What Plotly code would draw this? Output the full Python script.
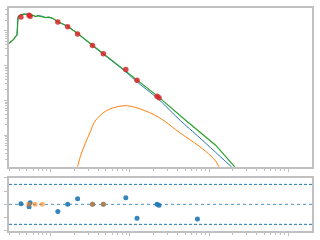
import plotly.graph_objects as go
from plotly.subplots import make_subplots

# ---- data (wavelength, flux) ----
total_x = [0.0299, 0.0335, 0.0365, 0.0376, 0.039, 0.0422, 0.046, 0.0516, 0.0562, 0.0613, 0.0649,
           0.0688, 0.0794, 0.0866, 0.0944, 0.106, 0.1223, 0.163, 0.2175, 0.335, 0.46, 0.891,
           1.223, 2.239, 5.11, 12.13, 21.13, 27.4]
total_y = [0.437, 0.538, 0.699, 0.746, 2.49, 2.84, 2.97, 2.97, 2.87, 2.71, 2.54,
           2.69, 2.57, 2.38, 2.44, 2.26, 1.83, 1.34, 0.839, 0.389, 0.2234, 0.0714,
           0.0384, 0.01328, 0.002656, 0.00052, 0.000124, 6.9e-5]

star_x = [0.0299, 0.0335, 0.0365, 0.0376, 0.039, 0.0422, 0.046, 0.0516, 0.0562, 0.0613, 0.0649,
          0.0688, 0.0794, 0.0866, 0.0944, 0.106, 0.1223, 0.163, 0.2175, 0.335, 0.46, 0.891,
          1.223, 2.239, 4.34, 7.5, 19.2, 25.1]
star_y = [0.437, 0.538, 0.699, 0.746, 2.49, 2.84, 2.97, 2.97, 2.87, 2.71, 2.54,
          2.69, 2.57, 2.38, 2.44, 2.26, 1.83, 1.34, 0.839, 0.376, 0.2134, 0.066,
          0.0344, 0.0115, 0.002656, 0.000879, 0.000124, 6.9e-5]

disk_x = [0.2113, 0.2193, 0.2371, 0.2738, 0.3162, 0.365, 0.487, 0.649, 0.866, 1.155, 1.54,
          2.054, 2.738, 4.217, 7.5, 10.59, 12.24, 13.34, 14.13]
disk_y = [8.95e-5, 0.000124, 0.000243, 0.000582, 0.00124, 0.00257, 0.00478, 0.00632, 0.00706,
          0.0064, 0.0051, 0.00385, 0.00257, 0.001215, 0.000488, 0.000254, 0.0001754, 0.000124, 7.37e-5]

obs_x = [0.0422, 0.0535, 0.0551, 0.1234, 0.1644, 0.2193, 0.338, 0.4634, 0.891, 1.233, 2.208, 2.337]
obs_y = [2.49, 2.78, 2.61, 1.763, 1.298, 0.8065, 0.376, 0.219, 0.0772, 0.0377, 0.01312, 0.0119]

res_x = [0.0422, 0.0551, 0.0535, 0.1234, 0.1644, 0.2193, 0.338, 0.4634, 0.891, 1.233, 2.208, 2.337, 7.14]
res_y = [0.1, 0.25, -0.34, -1.08, 0.0, 0.85, 0.0, 0.0, 1.0, -2.1, 0.0, -0.15, -2.2]

lim_x = [0.0531, 0.0637, 0.0787, 0.338, 0.4634]
lim_y = [0.0, 0.0, 0.0, 0.0, 0.0]

BLUE = "#1f77b4"
ORANGE = "#ff7f0e"
GREEN = "#2ca02c"
RED = "#d62728"
GREY = "#c0c0c0"

fig = make_subplots(rows=2, cols=1, shared_xaxes=False,
                    row_heights=[0.75, 0.25], vertical_spacing=0.05)

fig.add_trace(go.Scatter(x=star_x, y=star_y, mode="lines",
                         line=dict(color=BLUE, width=1, shape="spline", smoothing=0.6)), row=1, col=1)
fig.add_trace(go.Scatter(x=disk_x, y=disk_y, mode="lines",
                         line=dict(color=ORANGE, width=1, shape="spline", smoothing=1.0)), row=1, col=1)
fig.add_trace(go.Scatter(x=total_x, y=total_y, mode="lines",
                         line=dict(color=GREEN, width=1.2)), row=1, col=1)
fig.add_trace(go.Scatter(x=obs_x, y=obs_y, mode="markers",
                         marker=dict(color=RED, size=5.5, opacity=0.85, line=dict(width=0))), row=1, col=1)

fig.add_trace(go.Scatter(x=res_x, y=res_y, mode="markers",
                         marker=dict(color=BLUE, size=5, opacity=0.9, line=dict(width=0))), row=2, col=1)
fig.add_trace(go.Scatter(x=lim_x, y=lim_y, mode="markers",
                         marker=dict(color=ORANGE, size=5, opacity=0.6, line=dict(width=0))), row=2, col=1)

fig.add_hline(y=3, line=dict(color=BLUE, width=1, dash="3px,2px"), row=2, col=1, layer="below")
fig.add_hline(y=-3, line=dict(color=BLUE, width=1, dash="3px,2px"), row=2, col=1, layer="below")
fig.add_hline(y=0, line=dict(color=BLUE, width=1, dash="dot"), opacity=0.8, row=2, col=1, layer="below")

axis_common = dict(showgrid=False, zeroline=False, showline=True, linecolor=GREY, linewidth=2,
                   mirror=True, ticks="outside", ticklen=3, tickcolor=GREY, tickwidth=1,
                   showticklabels=False)

fig.update_xaxes(type="log", range=[-1.525, 2.3], dtick=1,
                 minor=dict(ticks="outside", ticklen=2, tickcolor=GREY, dtick="D1"),
                 **axis_common)
fig.update_yaxes(type="log", range=[-3.906, 0.651], dtick=1,
                 minor=dict(ticks="outside", ticklen=2, tickcolor=GREY, dtick="D1"),
                 row=1, col=1, **axis_common)
fig.update_yaxes(range=[-4, 4], dtick=2, row=2, col=1, **axis_common)

fig.update_layout(
    width=320, height=240,
    margin=dict(l=8, r=6, t=6, b=8),
    paper_bgcolor="white", plot_bgcolor="white",
    showlegend=False,
    yaxis=dict(domain=[0.2876, 1.0]),
    yaxis2=dict(domain=[0.0, 0.2389]),
)

fig.write_html("out.html")
